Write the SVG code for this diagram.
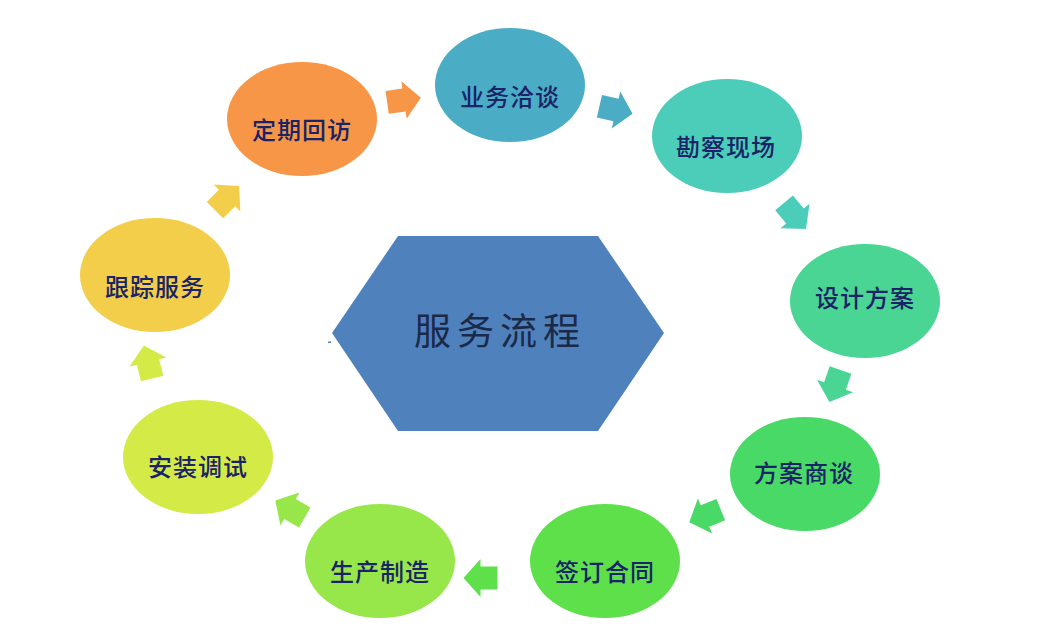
<svg xmlns="http://www.w3.org/2000/svg" xmlns:xlink="http://www.w3.org/1999/xlink" width="1052" height="630" viewBox="0 0 1052 630">
<style>
  .lbl { font-family: "Noto Sans CJK SC", "Noto Sans CJK TC", sans-serif; font-size: 24px; font-weight: 500; fill: #1a2366; text-anchor: middle; letter-spacing: 1px; }
  .title { font-family: "Noto Sans CJK SC", "Noto Sans CJK TC", sans-serif; font-size: 37px; font-weight: 400; fill: #1b2a48; text-anchor: middle; letter-spacing: 6px; }
</style>
<defs>
  <path id="arr" d="M-17,-11.5 H0 V-19 L17,0 L0,19 V11.5 H-17 Z"/>
</defs>
<rect width="1052" height="630" fill="#ffffff"/>

<g id="center">
  <polygon points="398,236 598,236 664,333 598,431 398,431 332,333" fill="#4F81BD"/>
  <rect x="328" y="341.5" width="3" height="1.5" fill="#4F81BD"/>
  <text class="title" x="500" y="345">服务流程</text>
</g>

<g id="connectors">
  <use xlink:href="#arr" transform="translate(404,100) rotate(-8)" fill="#F79646"/>
  <use xlink:href="#arr" transform="translate(616,110) rotate(13)" fill="#4BACC6"/>
  <use xlink:href="#arr" transform="translate(795,216) rotate(50)" fill="#4BCDBA"/>
  <use xlink:href="#arr" transform="translate(835,386) rotate(109)" fill="#4AD594"/>
  <use xlink:href="#arr" transform="translate(705,516) rotate(158)" fill="#48D966"/>
  <use xlink:href="#arr" transform="translate(480.5,578) rotate(180)" fill="#5DE04A"/>
  <use xlink:href="#arr" transform="translate(290,509) rotate(210)" fill="#97E64A"/>
  <use xlink:href="#arr" transform="translate(148,362) rotate(256)" fill="#D4EA46"/>
  <use xlink:href="#arr" transform="translate(227,198) rotate(-45)" fill="#F2CE4A"/>
</g>

<g id="n1"><ellipse cx="302" cy="119" rx="75" ry="57" fill="#F79646"/><text class="lbl" x="302" y="139">定期回访</text></g>
<g id="n2"><ellipse cx="510" cy="85" rx="75" ry="57" fill="#4BACC6"/><text class="lbl" x="510" y="106">业务洽谈</text></g>
<g id="n3"><ellipse cx="727" cy="136" rx="75" ry="57" fill="#4BCDBA"/><text class="lbl" x="726" y="156">勘察现场</text></g>
<g id="n4"><ellipse cx="865" cy="301" rx="75" ry="57" fill="#4AD594"/><text class="lbl" x="865" y="307">设计方案</text></g>
<g id="n5"><ellipse cx="805" cy="474" rx="75" ry="57" fill="#48D966"/><text class="lbl" x="804" y="482">方案商谈</text></g>
<g id="n6"><ellipse cx="605" cy="561" rx="75" ry="57" fill="#5DE04A"/><text class="lbl" x="605" y="581">签订合同</text></g>
<g id="n7"><ellipse cx="380" cy="561" rx="75" ry="57" fill="#97E64A"/><text class="lbl" x="380" y="581">生产制造</text></g>
<g id="n8"><ellipse cx="198" cy="457" rx="75" ry="57" fill="#D4EA46"/><text class="lbl" x="198" y="476">安装调试</text></g>
<g id="n9"><ellipse cx="155" cy="275" rx="75" ry="57" fill="#F2CE4A"/><text class="lbl" x="155" y="296">跟踪服务</text></g>
</svg>
